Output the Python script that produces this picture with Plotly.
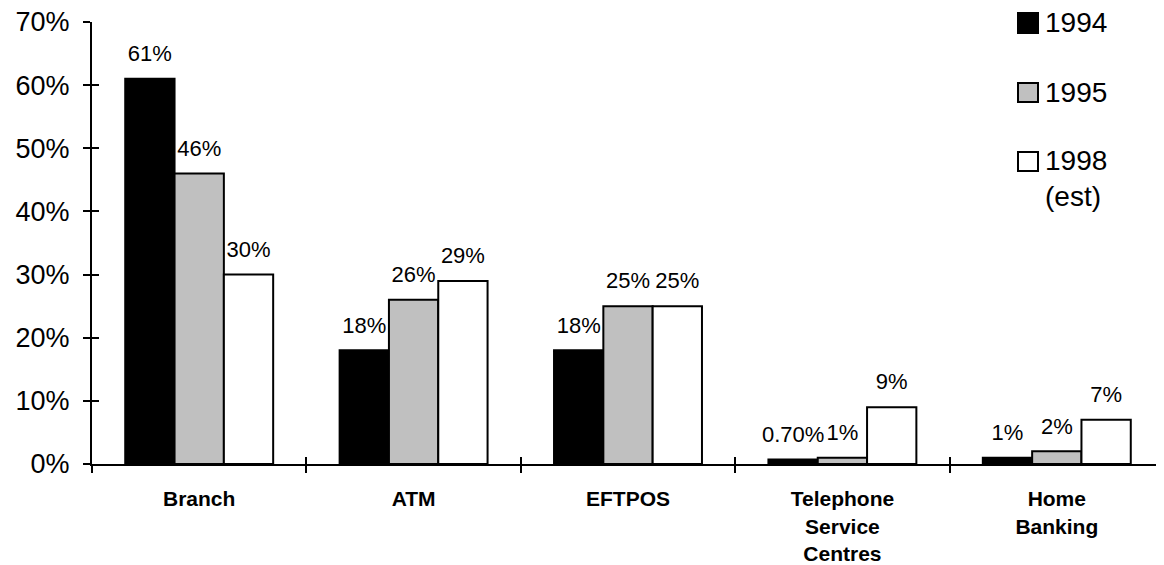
import plotly.graph_objects as go

categories = ["Branch", "ATM", "EFTPOS", "Telephone<br>Service<br>Centres", "Home<br>Banking"]
series_names = ["1994", "1995", "1998 (est)"]
v1994 = [0.61, 0.18, 0.18, 0.007, 0.01]
v1995 = [0.46, 0.26, 0.25, 0.01, 0.02]
v1998 = [0.30, 0.29, 0.25, 0.09, 0.07]
t1994 = ["61%", "18%", "18%", "0.70%", "1%"]
t1995 = ["46%", "26%", "25%", "1%", "2%"]
t1998 = ["30%", "29%", "25%", "9%", "7%"]
y_tickvals = [0, 0.1, 0.2, 0.3, 0.4, 0.5, 0.6, 0.7]
y_ticktext = ["0%", "10%", "20%", "30%", "40%", "50%", "60%", "70%"]

FONT = "Arial, Liberation Sans, sans-serif"
fills = ["#000000", "#c0c0c0", "#ffffff"]
groups = ["g1", "g2", "g3"]
values = [v1994, v1995, v1998]
texts = [t1994, t1995, t1998]

fig = go.Figure()
for name, vals, fill, grp in zip(series_names, values, fills, groups):
    fig.add_trace(go.Bar(
        x=categories, y=vals, name=name, offsetgroup=grp,
        marker=dict(color=fill, line=dict(color="black", width=2)),
        showlegend=False, hoverinfo="skip",
    ))
for name, vals, txt, grp in zip(series_names, values, texts, groups):
    fig.add_trace(go.Scatter(
        x=categories, y=vals, text=txt, mode="markers+text",
        offsetgroup=grp, alignmentgroup="lab",
        marker=dict(size=18, color="rgba(0,0,0,0)"),
        textposition="top center",
        textfont=dict(family=FONT, size=22, color="black"),
        showlegend=False, hoverinfo="skip", cliponaxis=False,
    ))
# helper trace for crossing tick marks on the overlay axes
fig.add_trace(go.Scatter(x=categories, y=[None]*len(categories), xaxis="x2", yaxis="y2",
                         mode="markers", showlegend=False, hoverinfo="skip"))

# page body has an 8px margin, so the figure is sized/offset to compensate
fig.update_layout(
    width=1156, height=557,
    margin=dict(l=84, r=0, t=14, b=101),
    plot_bgcolor="white", paper_bgcolor="white",
    barmode="group", bargap=0.31, bargroupgap=0,
    scattermode="group", scattergap=0.31,
    font=dict(family=FONT, color="black"),
    xaxis=dict(
        type="category", showline=True, linecolor="black", linewidth=2,
        ticks="outside", tickson="boundaries", ticklen=7, tickwidth=2, tickcolor="black",
        tickfont=dict(family=FONT, size=21, color="black", weight="bold"),
        ticklabelstandoff=15, showgrid=False, zeroline=False, automargin=False,
        ticklabeloverflow="allow",
    ),
    xaxis2=dict(
        type="category", overlaying="x", matches="x", showline=False,
        ticks="inside", tickson="boundaries", ticklen=7, tickwidth=2, tickcolor="black",
        showticklabels=False, showgrid=False, zeroline=False, automargin=False,
    ),
    yaxis=dict(
        range=[0, 0.7], tickvals=y_tickvals, ticktext=y_ticktext,
        showline=True, linecolor="black", linewidth=2,
        ticks="outside", ticklen=7, tickwidth=2, tickcolor="black",
        tickfont=dict(family=FONT, size=27, color="black"),
        ticklabelstandoff=8, showgrid=False, zeroline=False, automargin=False,
        ticklabeloverflow="allow",
    ),
    yaxis2=dict(
        range=[0, 0.7], overlaying="y", side="left", tickvals=y_tickvals,
        ticks="inside", ticklen=7, tickwidth=2, tickcolor="black",
        showticklabels=False, showline=False, showgrid=False, zeroline=False,
        automargin=False,
    ),
)

# legend drawn manually (paper coordinates, from screen pixel positions)
plot_w, plot_h = 1072.0, 442.0
def px_x(p):
    return (p - 92) / plot_w
def px_y(p):
    return (464 - p) / plot_h

legend_boxes = [(13, 33), (83, 102), (152, 171)]
legend_text_y = [23, 92, 179]
legend_labels = ["1994", "1995", "1998<br>(est)"]
for (ytop, ybot), fill, ty, lab in zip(legend_boxes, fills, legend_text_y, legend_labels):
    fig.add_shape(type="rect", xref="paper", yref="paper",
                  x0=px_x(1018), x1=px_x(1038), y0=px_y(ybot), y1=px_y(ytop),
                  fillcolor=fill, line=dict(color="black", width=2))
    fig.add_annotation(xref="paper", yref="paper", x=px_x(1043), y=px_y(ty),
                       xanchor="left", yanchor="middle", align="left",
                       text=lab, showarrow=False,
                       font=dict(family=FONT, size=28, color="black"))

fig.write_html("out.html")
